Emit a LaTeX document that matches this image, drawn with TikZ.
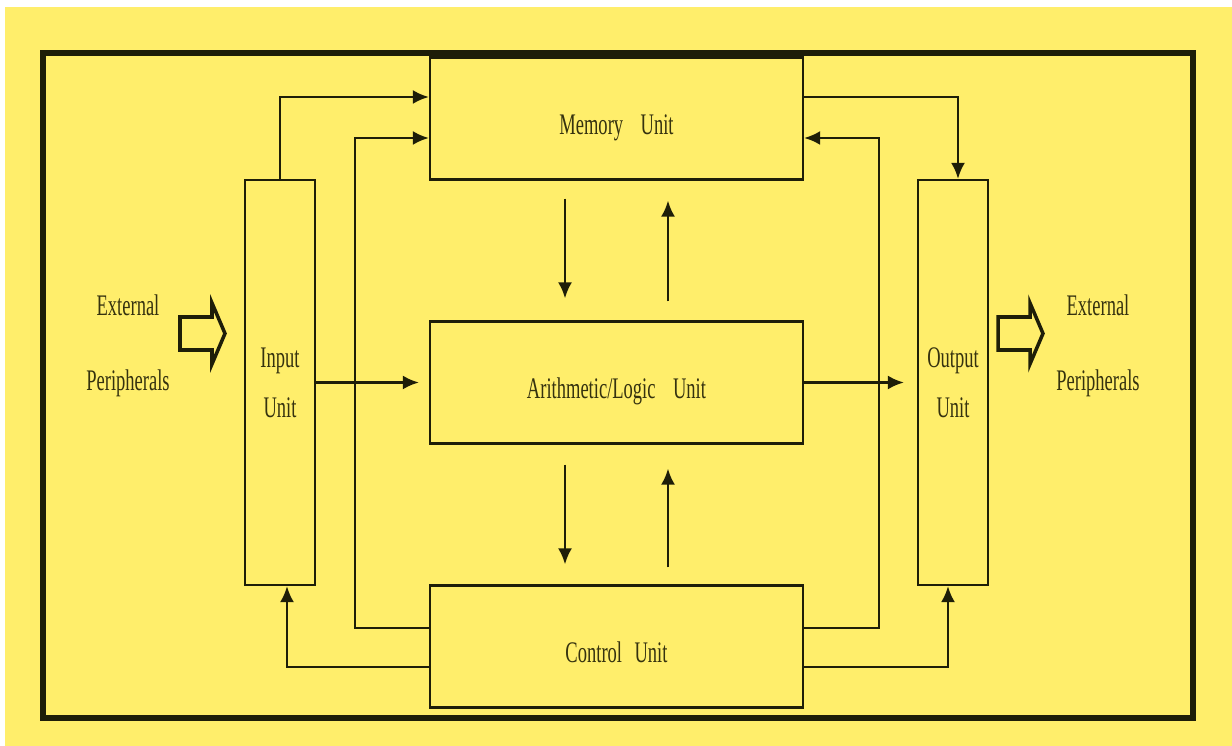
\documentclass[tikz,border=0pt]{standalone}
\usepackage{fontspec}
\newfontfamily\unitfont[FakeStretch=0.62]{Liberation Serif}
\usetikzlibrary{positioning, arrows.meta, calc}
\definecolor{bgyellow}{HTML}{FFEE6B}
\definecolor{inkdark}{HTML}{1E1E08}
\definecolor{textdark}{HTML}{35320F}

\begin{document}
\begin{tikzpicture}[
    unitbox/.style={draw=inkdark, line width=1.25pt, fill=bgyellow, text=textdark,
                    font=\unitfont\fontsize{17}{20}\selectfont, align=center, inner sep=0pt},
    widebox/.style={unitbox, minimum width=7.46cm, minimum height=2.44cm,
                    text height=0.65cm, text depth=0pt},
    label/.style={text=textdark, font=\unitfont\fontsize{17}{20}\selectfont, align=center},
    link/.style={draw=inkdark, line width=1.5pt, -{Latex[length=3.2mm, width=2.8mm]}},
    hollowarrow/.style={draw=inkdark, line width=2pt, fill=bgyellow, line join=miter}
  ]
  % page and frame
  \fill[white] (0,0) rectangle (24.64,14.92);
  \fill[bgyellow] (0.1,0) rectangle (24.64,14.78);
  \draw[inkdark, line width=3pt] (0.86,0.56) rectangle (23.86,13.86);

  % units
  \node[widebox] (memory) at (12.33,12.55) {Memory\hspace{0.35cm}Unit};
  \node[widebox] (alu) at (12.33,7.27) {Arithmetic/Logic\hspace{0.35cm}Unit};
  \node[widebox] (control) at (12.33,1.99) {Control\hspace{0.25cm}Unit};
  \node[unitbox, minimum width=1.4cm, minimum height=8.1cm] (input) at (5.6,7.27) {Input\\[0.3cm]Unit};
  \node[unitbox, minimum width=1.4cm, minimum height=8.1cm] (output) at (19.06,7.27) {Output\\[0.3cm]Unit};

  % peripherals
  \node[label] (extin) at (2.56,8.0) {External\\[0.8cm]Peripherals};
  \node[label] (extout) at (21.96,8.0) {External\\[0.8cm]Peripherals};
  \draw[hollowarrow] (3.6,7.92) -- (4.24,7.92) -- (4.24,7.64) -- (4.5,8.25)
    -- (4.24,8.86) -- (4.24,8.58) -- (3.6,8.58) -- cycle;
  \draw[hollowarrow] (19.96,7.92) -- (20.6,7.92) -- (20.6,7.64) -- (20.86,8.25)
    -- (20.6,8.86) -- (20.6,8.58) -- (19.96,8.58) -- cycle;

  % data paths
  \draw[link] (input.north) |- ([yshift=4.3mm]memory.west);
  \draw[link] ([yshift=4.3mm]memory.east) -| ([xshift=1mm]output.north);
  \draw[link] (input.east) -- ([xshift=-2mm]alu.west);
  \draw[link] (alu.east) -- ([xshift=-2.6mm]output.west);
  \draw[link] ([xshift=-1.03cm, yshift=-3.6mm]memory.south) -- ([xshift=-1.03cm, yshift=4.4mm]alu.north);
  \draw[link] ([xshift=1.03cm, yshift=3.8mm]alu.north) -- ([xshift=1.03cm, yshift=-4mm]memory.south);
  \draw[link] ([xshift=-1.03cm, yshift=-4mm]alu.south) -- ([xshift=-1.03cm, yshift=4mm]control.north);
  \draw[link] ([xshift=1.03cm, yshift=3.4mm]control.north) -- ([xshift=1.03cm, yshift=-4.8mm]alu.south);

  % control paths
  \draw[link] ([yshift=3.7mm]control.west) -- ++(-1.48,0) |- ([yshift=-3.9mm]memory.west);
  \draw[link] ([yshift=-4.1mm]control.west) -| ([xshift=1.4mm]input.south);
  \draw[link] ([yshift=3.7mm]control.east) -- ++(1.5,0) |- ([yshift=-3.9mm]memory.east);
  \draw[link] ([yshift=-4.1mm]control.east) -| ([xshift=-1mm]output.south);
\end{tikzpicture}
\end{document}
